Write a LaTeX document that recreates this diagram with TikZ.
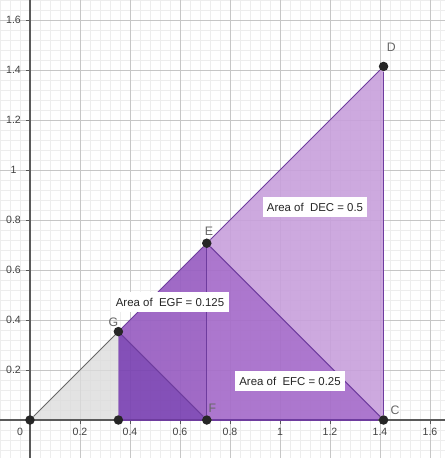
\documentclass[tikz,border=0pt]{standalone}
\usepackage{fontspec}
\setmainfont{Liberation Sans}
\definecolor{minorc}{HTML}{EDEDED}
\definecolor{majorc}{HTML}{C6C6C6}
\definecolor{axisc}{HTML}{5A5A5A}
\definecolor{lightp}{HTML}{C8A0DC}
\definecolor{midp}{HTML}{A66CCA}
\definecolor{egfp}{HTML}{985EC2}
\definecolor{darkp}{HTML}{7A42B2}
\definecolor{edgep}{HTML}{6E3C9E}
\definecolor{grayfill}{HTML}{DCDCDC}
\tikzset{
  minorgrid/.style={draw=minorc, line width=0.3pt},
  majorgrid/.style={draw=majorc, line width=0.45pt},
  axisline/.style={draw=axisc, line width=0.8pt},
  ticklbl/.style={text=black!75, font=\fontsize{6}{7}\selectfont, inner sep=0pt},
  pt/.style={circle, fill=black!85, inner sep=0pt, minimum size=0.19cm},
  ptlbl/.style={text=black!60, font=\fontsize{7}{8}\selectfont, inner sep=1pt},
  edge/.style={draw=edgep, line width=0.6pt},
  areabox/.style={fill=white, inner xsep=2.5pt, inner ysep=0pt, minimum height=0.4cm, font=\fontsize{6.5}{8}\selectfont, text=black!85},
}
\begin{document}
\begin{tikzpicture}[x=5cm,y=5cm]
\useasboundingbox (-0.12,-0.152) rectangle (1.66,1.68);
\fill[white] (-0.12,-0.152) rectangle (1.66,1.68);
% grid
\draw[minorgrid, step=0.04] (-0.12,-0.152) grid (1.66,1.68);
\draw[majorgrid, step=0.2] (-0.12,-0.152) grid (1.66,1.68);
% coordinates
\coordinate (Oc) at (0,0);
\coordinate (Gc) at (0.35355,0.35355);
\coordinate (Hc) at (0.35355,0);
\coordinate (Fc) at (0.70711,0);
\coordinate (Ec) at (0.70711,0.70711);
\coordinate (Dc) at (1.41421,1.41421);
\coordinate (Cc) at (1.41421,0);
% fills
\fill[grayfill, fill opacity=0.8] (Oc) -- (Gc) -- (Hc) -- cycle;
\fill[lightp, fill opacity=0.9] (Dc) -- (Ec) -- (Cc) -- cycle;
\fill[midp, fill opacity=0.92] (Ec) -- (Fc) -- (Cc) -- cycle;
\fill[egfp, fill opacity=0.92] (Ec) -- (Gc) -- (Fc) -- cycle;
\fill[darkp, fill opacity=0.92] (Gc) -- (Hc) -- (Fc) -- cycle;
% axes
\draw[axisline] (-0.12,0) -- (1.66,0);
\draw[axisline] (0,-0.152) -- (0,1.68);
\foreach \t in {0.2,0.4,0.6,0.8,1,1.2,1.4,1.6} {
  \draw[axisc, line width=0.5pt] (\t,0) -- (\t,-0.016);
  \draw[axisc, line width=0.5pt] (0,\t) -- (-0.016,\t);
}
\foreach \t/\l in {0.2/0.2,0.4/0.4,0.6/0.6,0.8/0.8,1/1,1.2/1.2,1.4/1.4,1.6/1.6} {
  \node[ticklbl] at (\t,-0.048) {\l};
  \node[ticklbl] at (-0.066,\t) {\l};
}
\node[ticklbl] at (-0.04,-0.048) {0};
% points
\node[pt] (O) at (Oc) {};
\node[pt] (G) at (Gc) {};
\node[pt] (H) at (Hc) {};
\node[pt] (F) at (Fc) {};
\node[pt] (E) at (Ec) {};
\node[pt] (D) at (Dc) {};
\node[pt] (C) at (Cc) {};
% edges
\draw[draw=black!60, line width=0.6pt] (O) -- (G);
\draw[edge] (G) -- (E);
\draw[edge] (E) -- (D);
\draw[edge] (D) -- (C);
\draw[edge] (E) -- (C);
\draw[edge] (E) -- (F);
\draw[edge] (G) -- (F);
\draw[draw=edgep!60, line width=0.5pt] (G) -- (H);
\draw[edge] (H) -- (F);
\draw[edge] (F) -- (C);
% point labels
\node[ptlbl] (Dl) at (1.445,1.49) {D};
\node[ptlbl] (El) at (0.716,0.754) {E};
\node[ptlbl] (Gl) at (0.334,0.392) {G};
\node[ptlbl] (Fl) at (0.73,0.048) {F};
\node[ptlbl] (Cl) at (1.46,0.04) {C};
% area boxes
\node[areabox] (a1) at (1.14,0.852) {Area of\ \ DEC = 0.5};
\node[areabox] (a2) at (0.56,0.472) {Area of\ \ EGF = 0.125};
\node[areabox] (a3) at (1.04,0.156) {Area of\ \ EFC = 0.25};
\end{tikzpicture}
\end{document}
